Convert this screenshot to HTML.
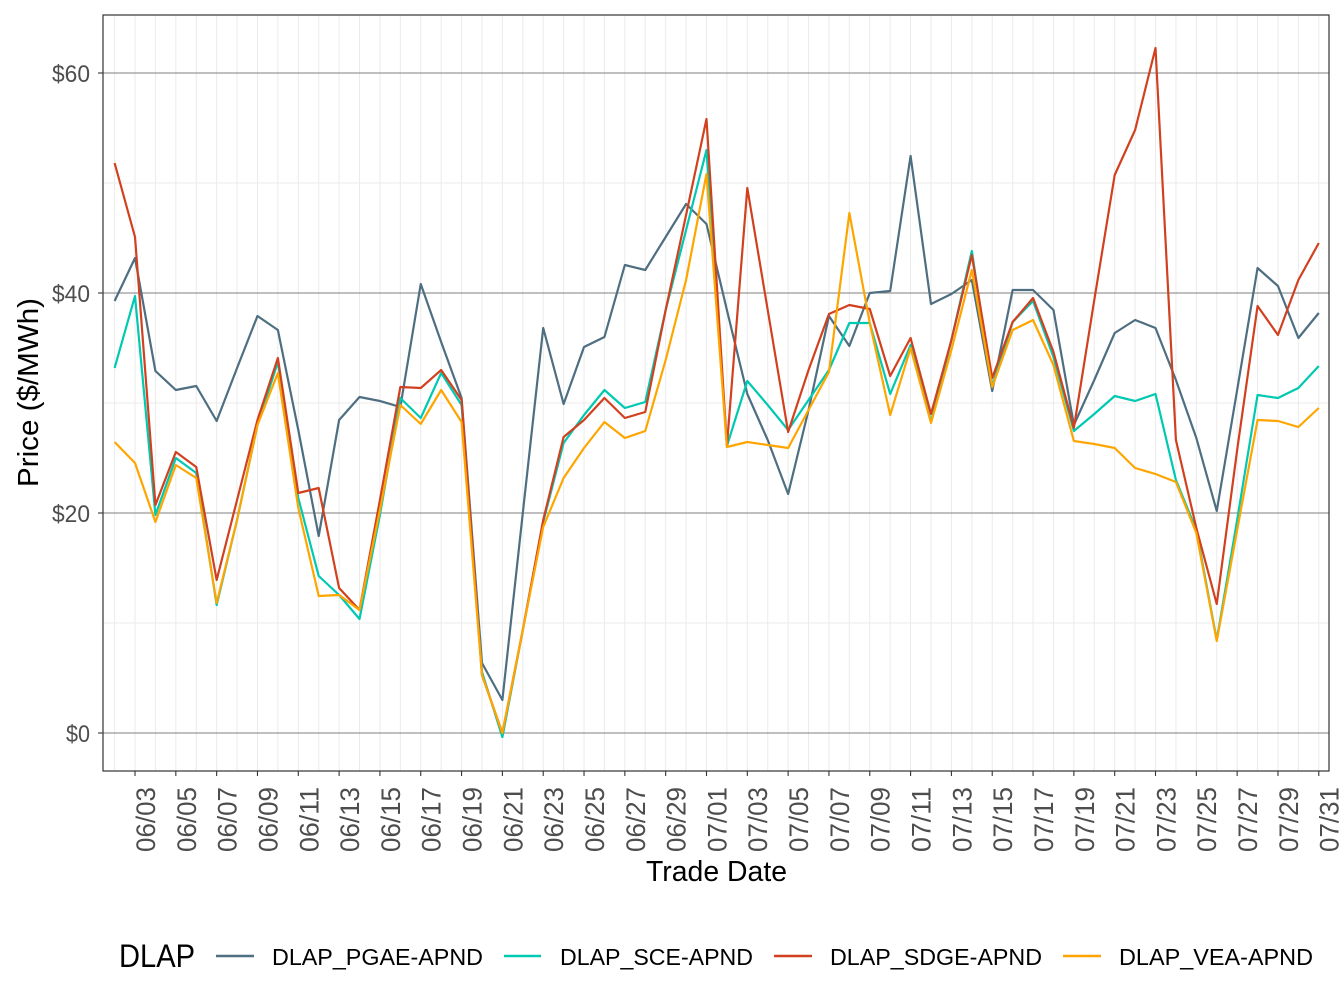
<!DOCTYPE html>
<html><head><meta charset="utf-8"><style>
html,body{margin:0;padding:0;background:#fff;}
svg{display:block;font-family:"Liberation Sans",sans-serif;}
</style></head><body>
<svg width="1344" height="1008" viewBox="0 0 1344 1008" xmlns="http://www.w3.org/2000/svg">
<rect x="0" y="0" width="1344" height="1008" fill="#fff"/>
<g stroke="#ebebeb" stroke-width="1">
<line x1="103" x2="1329" y1="623" y2="623"/>
<line x1="103" x2="1329" y1="403" y2="403"/>
<line x1="103" x2="1329" y1="183" y2="183"/>
</g>
<g transform="translate(114.6,0) scale(20.41,1)" stroke="#ebebeb" stroke-width="1">
<path vector-effect="non-scaling-stroke" d="M0,15V771M1,15V771M2,15V771M3,15V771M4,15V771M5,15V771M6,15V771M7,15V771M8,15V771M9,15V771M10,15V771M11,15V771M12,15V771M13,15V771M14,15V771M15,15V771M16,15V771M17,15V771M18,15V771M19,15V771M20,15V771M21,15V771M22,15V771M23,15V771M24,15V771M25,15V771M26,15V771M27,15V771M28,15V771M29,15V771M30,15V771M31,15V771M32,15V771M33,15V771M34,15V771M35,15V771M36,15V771M37,15V771M38,15V771M39,15V771M40,15V771M41,15V771M42,15V771M43,15V771M44,15V771M45,15V771M46,15V771M47,15V771M48,15V771M49,15V771M50,15V771M51,15V771M52,15V771M53,15V771M54,15V771M55,15V771M56,15V771M57,15V771M58,15V771M59,15V771"/>
</g>
<g stroke="#7f7f7f" stroke-width="1">
<line x1="103" x2="1329" y1="733" y2="733"/>
<line x1="103" x2="1329" y1="513" y2="513"/>
<line x1="103" x2="1329" y1="293" y2="293"/>
<line x1="103" x2="1329" y1="73" y2="73"/>
</g>
<g transform="translate(114.6,0) scale(20.41,1)" fill="none" stroke-width="2.2" stroke-linejoin="round">
<polyline vector-effect="non-scaling-stroke" stroke="#4e6e81" points="0,301 1,258 2,371 3,390 4,386 5,421 6,368 7,316 8,330 9,430 10,536 11,420 12,397 13,401 14,407 15,284 16,342 17,398 18,663 19,700 20,513 21,328 22,404 23,347 24,337 25,265 26,270 27,237 28,204 29,224 30,310 31,394 32,440 33,494 34,410 35,316 36,346 37,293 38,291 39,156 40,304 41,294 42,280 43,391 44,290 45,290 46,310 47,425 48,380 49,333 50,320 51,328 52,380 53,438 54,511 55,390 56,268 57,286 58,338 59,313"/>
<polyline vector-effect="non-scaling-stroke" stroke="#00c9b1" points="0,368 1,296 2,515 3,458 4,473 5,605 6,520 7,425 8,362 9,498 10,576 11,595 12,619 13,515 14,398 15,418 16,373 17,405 18,672 19,737 20,630 21,522 22,443 23,415 24,390 25,408 26,402 27,310 28,230 29,150 30,446 31,381 32,405 33,430 34,400 35,370 36,323 37,323 38,394 39,345 40,422 41,340 42,251 43,386 44,322 45,301 46,357 47,431 48,414 49,396 50,401 51,394 52,480 53,530 54,640 55,520 56,395 57,398 58,388 59,366"/>
<polyline vector-effect="non-scaling-stroke" stroke="#d1411f" points="0,163 1,237 2,505 3,452 4,467 5,580 6,500 7,420 8,358 9,493 10,488 11,588 12,610 13,500 14,387 15,388 16,370 17,400 18,675 19,733 20,630 21,520 22,437 23,420 24,398 25,418 26,412 27,310 28,215 29,119 30,446 31,188 32,310 33,432 34,370 35,314 36,305 37,309 38,376 39,338 40,414 41,340 42,255 43,378 44,322 45,298 46,352 47,428 48,300 49,175 50,130 51,48 52,440 53,528 54,604 55,450 56,306 57,335 58,280 59,243"/>
<polyline vector-effect="non-scaling-stroke" stroke="#ffa500" points="0,442 1,463 2,522 3,465 4,478 5,603 6,520 7,425 8,373 9,508 10,596 11,595 12,610 13,510 14,405 15,424 16,390 17,422 18,675 19,733 20,630 21,527 22,478 23,448 24,422 25,438 26,431 27,360 28,280 29,174 30,447 31,442 32,445 33,448 34,410 35,372 36,213 37,323 38,415 39,348 40,423 41,350 42,270 43,387 44,330 45,320 46,365 47,441 48,444 49,448 50,468 51,474 52,482 53,533 54,641 55,530 56,420 57,421 58,427 59,408"/>
</g>
<rect x="103" y="15" width="1226" height="756" fill="none" stroke="#333" stroke-width="1.2"/>
<g stroke="#333" stroke-width="1.1">
<line x1="98" x2="103" y1="733" y2="733"/><line x1="98" x2="103" y1="513" y2="513"/><line x1="98" x2="103" y1="293" y2="293"/><line x1="98" x2="103" y1="73" y2="73"/>
</g>
<g font-size="24" fill="#4d4d4d" text-anchor="end" lengthAdjust="spacingAndGlyphs">
<text x="90" y="742" textLength="24" lengthAdjust="spacingAndGlyphs">$0</text>
<text x="90" y="522" textLength="38" lengthAdjust="spacingAndGlyphs">$20</text>
<text x="90" y="302" textLength="38" lengthAdjust="spacingAndGlyphs">$40</text>
<text x="90" y="82" textLength="38" lengthAdjust="spacingAndGlyphs">$60</text>
</g>
<g transform="translate(114.6,0) scale(20.41,1)" stroke="#333">
<path vector-effect="non-scaling-stroke" stroke-width="1.1" d="M1,771V776M3,771V776M5,771V776M7,771V776M9,771V776M11,771V776M13,771V776M15,771V776M17,771V776M19,771V776M21,771V776M23,771V776M25,771V776M27,771V776M29,771V776M31,771V776M33,771V776M35,771V776M37,771V776M39,771V776M41,771V776M43,771V776M45,771V776M47,771V776M49,771V776M51,771V776M53,771V776M55,771V776M57,771V776M59,771V776"/>
</g>
<g font-size="27" fill="#4d4d4d" text-anchor="end">
<text transform="translate(155,787) rotate(-90)" textLength="65" lengthAdjust="spacingAndGlyphs">06/03</text>
<text transform="translate(195.8,787) rotate(-90)" textLength="65" lengthAdjust="spacingAndGlyphs">06/05</text>
<text transform="translate(236.6,787) rotate(-90)" textLength="65" lengthAdjust="spacingAndGlyphs">06/07</text>
<text transform="translate(277.4,787) rotate(-90)" textLength="65" lengthAdjust="spacingAndGlyphs">06/09</text>
<text transform="translate(318.3,787) rotate(-90)" textLength="65" lengthAdjust="spacingAndGlyphs">06/11</text>
<text transform="translate(359.1,787) rotate(-90)" textLength="65" lengthAdjust="spacingAndGlyphs">06/13</text>
<text transform="translate(399.9,787) rotate(-90)" textLength="65" lengthAdjust="spacingAndGlyphs">06/15</text>
<text transform="translate(440.7,787) rotate(-90)" textLength="65" lengthAdjust="spacingAndGlyphs">06/17</text>
<text transform="translate(481.5,787) rotate(-90)" textLength="65" lengthAdjust="spacingAndGlyphs">06/19</text>
<text transform="translate(522.3,787) rotate(-90)" textLength="65" lengthAdjust="spacingAndGlyphs">06/21</text>
<text transform="translate(563.2,787) rotate(-90)" textLength="65" lengthAdjust="spacingAndGlyphs">06/23</text>
<text transform="translate(604,787) rotate(-90)" textLength="65" lengthAdjust="spacingAndGlyphs">06/25</text>
<text transform="translate(644.8,787) rotate(-90)" textLength="65" lengthAdjust="spacingAndGlyphs">06/27</text>
<text transform="translate(685.6,787) rotate(-90)" textLength="65" lengthAdjust="spacingAndGlyphs">06/29</text>
<text transform="translate(726.4,787) rotate(-90)" textLength="65" lengthAdjust="spacingAndGlyphs">07/01</text>
<text transform="translate(767.2,787) rotate(-90)" textLength="65" lengthAdjust="spacingAndGlyphs">07/03</text>
<text transform="translate(808.1,787) rotate(-90)" textLength="65" lengthAdjust="spacingAndGlyphs">07/05</text>
<text transform="translate(848.9,787) rotate(-90)" textLength="65" lengthAdjust="spacingAndGlyphs">07/07</text>
<text transform="translate(889.7,787) rotate(-90)" textLength="65" lengthAdjust="spacingAndGlyphs">07/09</text>
<text transform="translate(930.5,787) rotate(-90)" textLength="65" lengthAdjust="spacingAndGlyphs">07/11</text>
<text transform="translate(971.3,787) rotate(-90)" textLength="65" lengthAdjust="spacingAndGlyphs">07/13</text>
<text transform="translate(1012.1,787) rotate(-90)" textLength="65" lengthAdjust="spacingAndGlyphs">07/15</text>
<text transform="translate(1053,787) rotate(-90)" textLength="65" lengthAdjust="spacingAndGlyphs">07/17</text>
<text transform="translate(1093.8,787) rotate(-90)" textLength="65" lengthAdjust="spacingAndGlyphs">07/19</text>
<text transform="translate(1134.6,787) rotate(-90)" textLength="65" lengthAdjust="spacingAndGlyphs">07/21</text>
<text transform="translate(1175.4,787) rotate(-90)" textLength="65" lengthAdjust="spacingAndGlyphs">07/23</text>
<text transform="translate(1216.2,787) rotate(-90)" textLength="65" lengthAdjust="spacingAndGlyphs">07/25</text>
<text transform="translate(1257,787) rotate(-90)" textLength="65" lengthAdjust="spacingAndGlyphs">07/27</text>
<text transform="translate(1297.9,787) rotate(-90)" textLength="65" lengthAdjust="spacingAndGlyphs">07/29</text>
<text transform="translate(1338.7,787) rotate(-90)" textLength="65" lengthAdjust="spacingAndGlyphs">07/31</text>
</g>
<text x="646" y="881" font-size="29" fill="#000" textLength="141" lengthAdjust="spacingAndGlyphs">Trade Date</text>
<text transform="translate(38,487) rotate(-90)" font-size="29" fill="#000" textLength="189" lengthAdjust="spacingAndGlyphs">Price ($/MWh)</text>
<text x="119" y="967" font-size="32" fill="#000" textLength="76" lengthAdjust="spacingAndGlyphs">DLAP</text>
<g stroke-width="2.4">
<line x1="216" x2="254" y1="956" y2="956" stroke="#4e6e81"/>
<line x1="504" x2="541" y1="956" y2="956" stroke="#00c9b1"/>
<line x1="774" x2="812" y1="956" y2="956" stroke="#d1411f"/>
<line x1="1063" x2="1101" y1="956" y2="956" stroke="#ffa500"/>
</g>
<g font-size="23.5" fill="#000">
<text x="272" y="965" textLength="211" lengthAdjust="spacingAndGlyphs">DLAP_PGAE-APND</text>
<text x="560" y="965" textLength="193" lengthAdjust="spacingAndGlyphs">DLAP_SCE-APND</text>
<text x="830" y="965" textLength="212" lengthAdjust="spacingAndGlyphs">DLAP_SDGE-APND</text>
<text x="1119" y="965" textLength="194" lengthAdjust="spacingAndGlyphs">DLAP_VEA-APND</text>
</g>
</svg>
</body></html>
